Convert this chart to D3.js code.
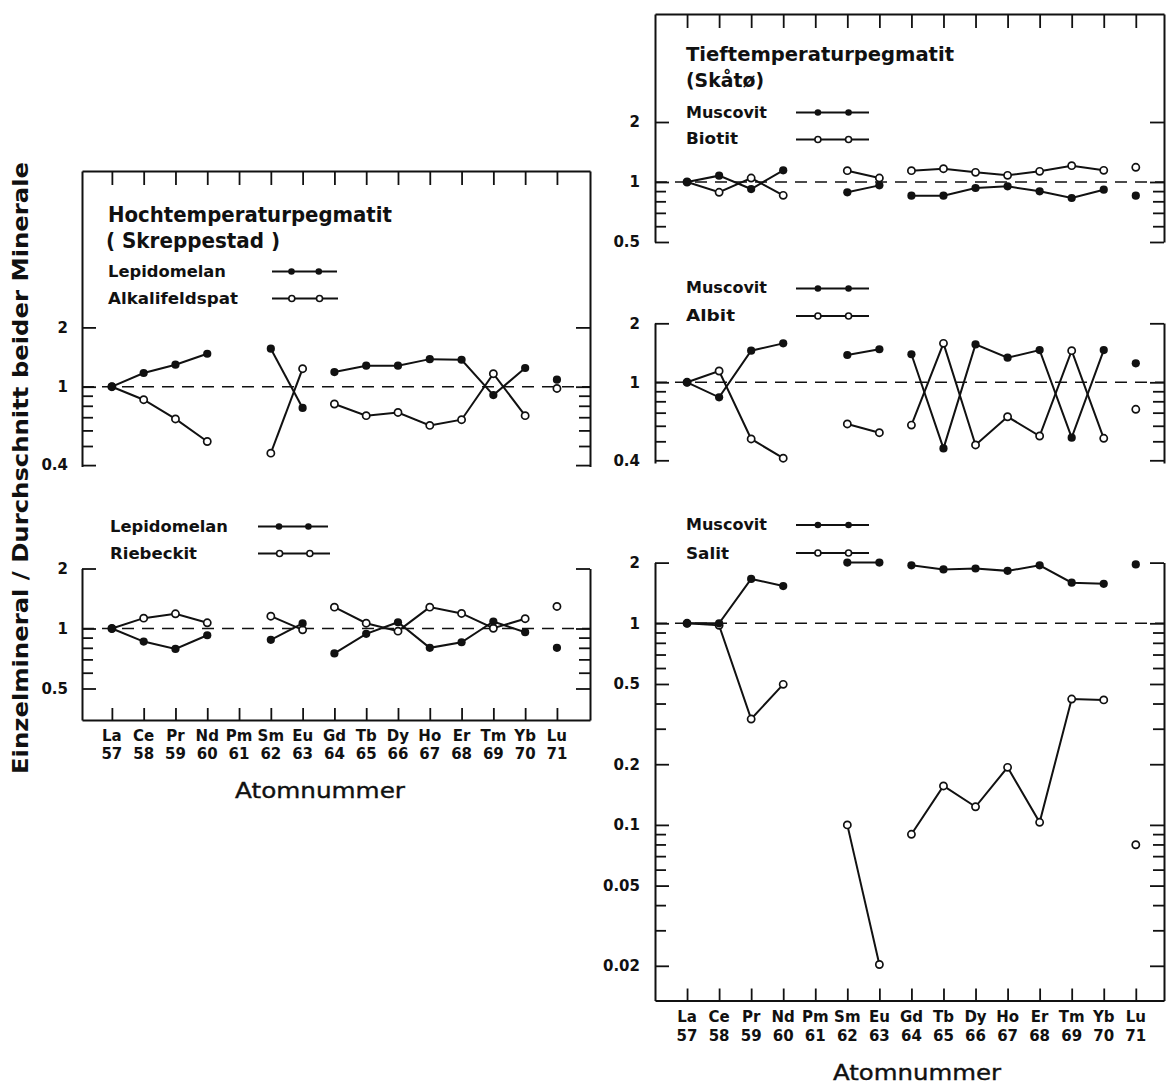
<!DOCTYPE html>
<html><head><meta charset="utf-8">
<script src="https://cdn.jsdelivr.net/npm/d3@7"></script>
<style>body{margin:0;background:#fff}svg{display:block}</style>
</head><body>
<svg id="c" width="1168" height="1084"></svg>
<script>
// ---------- data ----------
const elements = ["La","Ce","Pr","Nd","Pm","Sm","Eu","Gd","Tb","Dy","Ho","Er","Tm","Yb","Lu"];
const atomicNumbers = [57,58,59,60,61,62,63,64,65,66,67,68,69,70,71];
// connected runs of atomic numbers (Pm missing, Lu drawn alone)
const lineRuns = [[57,60],[62,63],[64,70]];

// Hochtemperaturpegmatit (Skreppestad)
const hochLepidomelan   = [1, 1.174, 1.293, 1.47, null, 1.56, 0.78, 1.187, 1.278, 1.278, 1.38, 1.37, 0.907, 1.244, 1.085];
const hochAlkalifeldspat= [1, 0.859, 0.686, 0.527, null, 0.46, 1.234, 0.817, 0.713, 0.74, 0.636, 0.68, 1.164, 0.713, 0.98];
// Lepidomelan / Riebeckit
const lepidomelan2      = [1, 0.86, 0.79, 0.925, null, 0.877, 1.06, 0.75, 0.94, 1.075, 0.80, 0.853, 1.084, 0.958, 0.80];
const riebeckit         = [1, 1.127, 1.185, 1.068, null, 1.153, 0.985, 1.28, 1.063, 0.97, 1.28, 1.19, 1.003, 1.12, 1.29];
// Tieftemperaturpegmatit (Skåtø)
const muscovitBiotit    = [1, 1.076, 0.922, 1.144, null, 0.888, 0.962, 0.854, 0.854, 0.933, 0.951, 0.898, 0.831, 0.915, 0.854];
const biotit            = [1, 0.888, 1.047, 0.857, null, 1.14, 1.047, 1.14, 1.166, 1.118, 1.08, 1.131, 1.208, 1.144, 1.185];
const muscovitAlbit     = [1, 0.838, 1.45, 1.58, null, 1.378, 1.474, 1.39, 0.46, 1.56, 1.335, 1.46, 0.522, 1.46, 1.25];
const albit             = [1, 1.142, 0.514, 0.41, null, 0.613, 0.553, 0.605, 1.58, 0.479, 0.667, 0.532, 1.45, 0.518, 0.728];
const muscovitSalit     = [1, 1.0, 1.66, 1.53, null, 2.0, 2.0, 1.94, 1.85, 1.87, 1.82, 1.94, 1.59, 1.57, 1.96];
const salit             = [1, 0.977, 0.335, 0.498, null, 0.1, 0.0203, 0.0898, 0.156, 0.123, 0.193, 0.103, 0.421, 0.417, 0.0797];

// tick values
const ticksTo04 = [2,1,0.9,0.8,0.7,0.6,0.5,0.4];
const ticksTo05 = [2,1,0.9,0.8,0.7,0.6,0.5];
const ticksSalit = [2,1,0.9,0.8,0.7,0.6,0.5,0.4,0.3,0.2,0.1,0.09,0.08,0.07,0.06,0.05,0.04,0.03,0.02];
const labels04 = [2,1,0.4];
const labels05 = [2,1,0.5];
const labelsSalit = [2,1,0.5,0.2,0.1,0.05,0.02];

// texts
const yTitle = "Einzelmineral / Durchschnitt beider Minerale";
const xTitle = "Atomnummer";

// ---------- drawing ----------
const INK = "#111";
const FONT = "'DejaVu Sans', Verdana, sans-serif";
const svg = d3.select("#c");

const columns = {
  left:  {x: d3.scaleLinear().domain([56.06, 72.04]).range([82, 590]), top: 171, bottom: 720,
          nameBase: 740.5, numBase: 758.5, titleX: 320, titleBase: 798, titleLen: 170},
  right: {x: d3.scaleLinear().domain([56, 71.88]).range([655, 1164]), top: 14, bottom: 1000.5,
          nameBase: 1021.5, numBase: 1041, titleX: 917, titleBase: 1080, titleLen: 168}
};

function styleAxis(g){
  g.selectAll("path.domain").attr("stroke", INK).attr("stroke-width", 2);
  g.selectAll(".tick line").attr("stroke", INK).attr("stroke-width", 1.8);
  g.selectAll("text").attr("fill", INK).attr("font-family", FONT).attr("font-weight", "bold");
}

function drawColumn(col){
  const x = col.x;
  const gTop = svg.append("g").attr("transform", `translate(0,${col.top})`)
    .call(d3.axisBottom(x).tickValues(atomicNumbers).tickSize(14).tickSizeOuter(0).tickFormat(""));
  styleAxis(gTop);
  const gBot = svg.append("g").attr("transform", `translate(0,${col.bottom})`)
    .call(d3.axisTop(x).tickValues(atomicNumbers).tickSize(12).tickSizeOuter(0).tickFormat(""));
  styleAxis(gBot);
  const lab = svg.append("g").attr("font-family", FONT).attr("font-weight", "bold")
    .attr("font-size", 15).attr("fill", INK).attr("text-anchor", "middle");
  lab.selectAll("text.nm").data(atomicNumbers).join("text").attr("class","nm")
    .attr("x", d => x(d)).attr("y", col.nameBase).text((d,i) => elements[i]);
  lab.selectAll("text.no").data(atomicNumbers).join("text").attr("class","no")
    .attr("x", d => x(d)).attr("y", col.numBase).text(d => d);
  svg.append("text").attr("x", col.titleX).attr("y", col.titleBase)
    .attr("text-anchor","middle").attr("font-family", FONT).attr("font-size", 22)
    .attr("fill", INK).attr("stroke", INK).attr("stroke-width", 0.4)
    .attr("textLength", col.titleLen).attr("lengthAdjust","spacingAndGlyphs")
    .text(xTitle);
}

function drawPanel(p){
  const col = columns[p.col];
  const x = col.x;
  const [x0, x1] = x.range();
  const lo = 10 ** ((p.p1 - p.bottom) / p.k), hi = 10 ** ((p.p1 - p.top) / p.k);
  const y = d3.scaleLog().domain([lo, hi]).range([p.bottom, p.top]);

  // left axis (inward ticks)
  const gl = svg.append("g").attr("transform", `translate(${x0},0)`)
    .call(d3.axisRight(y).tickValues(p.ticks).tickSize(11).tickSizeOuter(0).tickFormat(""));
  styleAxis(gl);
  gl.selectAll(".tick line").filter(d => p.labels.includes(d)).attr("x2", 14);
  // right axis (inward ticks)
  const gr = svg.append("g").attr("transform", `translate(${x1},0)`)
    .call(d3.axisLeft(y).tickValues(p.ticks).tickSize(11).tickSizeOuter(0).tickFormat(""));
  styleAxis(gr);
  gr.selectAll(".tick line").filter(d => p.labels.includes(d)).attr("x2", -14);
  // labels
  const gLab = svg.append("g").attr("transform", `translate(${x0},0)`)
    .call(d3.axisLeft(y).tickValues(p.labels).tickSize(0).tickPadding(p.labPad).tickFormat(d => String(d)));
  gLab.select("path.domain").remove();
  styleAxis(gLab);
  gLab.selectAll("text").attr("font-size", 15);

  // reference line at 1
  svg.append("line").attr("x1", x0).attr("x2", x1).attr("y1", y(1)).attr("y2", y(1))
    .attr("stroke", INK).attr("stroke-width", 1.6).attr("stroke-dasharray", "12,8");

  const line = d3.line().x(d => x(d.n)).y(d => y(d.v));
  const pts = vals => atomicNumbers.map((n,i) => ({n, v: vals[i]})).filter(d => d.v != null);
  [p.open, p.filled].forEach(vals => {
    lineRuns.forEach(([a,b]) => {
      const seg = pts(vals).filter(d => d.n >= a && d.n <= b);
      if (seg.length > 1) svg.append("path").attr("d", line(seg)).attr("fill","none")
        .attr("stroke", INK).attr("stroke-width", 2);
    });
  });
  svg.append("g").selectAll("circle").data(pts(p.open)).join("circle")
    .attr("cx", d => x(d.n)).attr("cy", d => y(d.v)).attr("r", 3.6)
    .attr("fill", "#fff").attr("stroke", INK).attr("stroke-width", 1.7);
  svg.append("g").selectAll("circle").data(pts(p.filled)).join("circle")
    .attr("cx", d => x(d.n)).attr("cy", d => y(d.v)).attr("r", 4.1).attr("fill", INK);

  // titles
  (p.titles || []).forEach(t => {
    svg.append("text").attr("x", t.x).attr("y", t.y).attr("font-family", FONT)
      .attr("font-weight","bold").attr("font-size", t.fs).attr("fill", INK)
      .attr("textLength", t.len).attr("lengthAdjust","spacingAndGlyphs").text(t.text);
  });
  // legend
  p.legend.forEach((L, i) => {
    svg.append("text").attr("x", L.x).attr("y", L.y).attr("font-family", FONT)
      .attr("font-weight","bold").attr("font-size", 15).attr("fill", INK)
      .attr("textLength", L.len).attr("lengthAdjust","spacingAndGlyphs").text(L.text);
    const w = L.s1 - L.s0;
    svg.append("line").attr("x1", L.s0).attr("x2", L.s1).attr("y1", L.sy).attr("y2", L.sy)
      .attr("stroke", INK).attr("stroke-width", 2);
    [0.3, 0.72].forEach(f => {
      const c = svg.append("circle").attr("cx", L.s0 + f * w).attr("cy", L.sy);
      if (i === 0) c.attr("r", 3.3).attr("fill", INK);
      else c.attr("r", 3).attr("fill", "#fff").attr("stroke", INK).attr("stroke-width", 1.6);
    });
  });
}

drawColumn(columns.left);
drawColumn(columns.right);

const panels = [
  {col:"left", top:171, bottom:466.5, p1:386.7, k:197, ticks:ticksTo04, labels:labels04, labPad:14,
   filled:hochLepidomelan, open:hochAlkalifeldspat,
   titles:[{text:"Hochtemperaturpegmatit", x:108, y:221.5, fs:21, len:284},
           {text:"( Skreppestad )", x:106, y:247.5, fs:21, len:174}],
   legend:[{text:"Lepidomelan", x:108, y:276.7, len:118, s0:272, s1:337, sy:271.5},
           {text:"Alkalifeldspat", x:108, y:304.3, len:130, s0:272, s1:338, sy:298.5}]},
  {col:"left", top:568.5, bottom:720, p1:628.5, k:199.3, ticks:ticksTo05, labels:labels05, labPad:14,
   filled:lepidomelan2, open:riebeckit,
   legend:[{text:"Lepidomelan", x:110, y:531.7, len:118, s0:258, s1:328, sy:526.5},
           {text:"Riebeckit", x:110, y:559.3, len:87, s0:258, s1:330, sy:553.5}]},
  {col:"right", top:14, bottom:242, p1:182, k:199.3, ticks:ticksTo05, labels:labels05, labPad:15,
   filled:muscovitBiotit, open:biotit,
   titles:[{text:"Tieftemperaturpegmatit", x:686, y:60.5, fs:19, len:268},
           {text:"(Skåtø)", x:686, y:87, fs:19, len:78}],
   legend:[{text:"Muscovit", x:686, y:117.5, len:81, s0:796, s1:869, sy:112.5},
           {text:"Biotit", x:686, y:144.3, len:52, s0:796, s1:869, sy:139.5}]},
  {col:"right", top:323, bottom:463, p1:382.3, k:196, ticks:ticksTo04, labels:labels04, labPad:15,
   filled:muscovitAlbit, open:albit,
   legend:[{text:"Muscovit", x:686, y:293.3, len:81, s0:796, s1:869, sy:288.5},
           {text:"Albit", x:686, y:321, len:49, s0:796, s1:869, sy:316}]},
  {col:"right", top:562.5, bottom:1000.5, p1:623.3, k:201.6, ticks:ticksSalit, labels:labelsSalit, labPad:15,
   filled:muscovitSalit, open:salit,
   legend:[{text:"Muscovit", x:686, y:530, len:81, s0:796, s1:869, sy:525},
           {text:"Salit", x:686, y:559, len:43, s0:796, s1:869, sy:553}]}
];
panels.forEach(drawPanel);

// shared y-axis title
svg.append("text").attr("transform", "translate(28,468) rotate(-90)")
  .attr("text-anchor","middle").attr("font-family", FONT).attr("font-weight","bold")
  .attr("font-size", 21).attr("fill", INK).attr("textLength", 612)
  .attr("lengthAdjust","spacingAndGlyphs").text(yTitle);
</script>
</body></html>
